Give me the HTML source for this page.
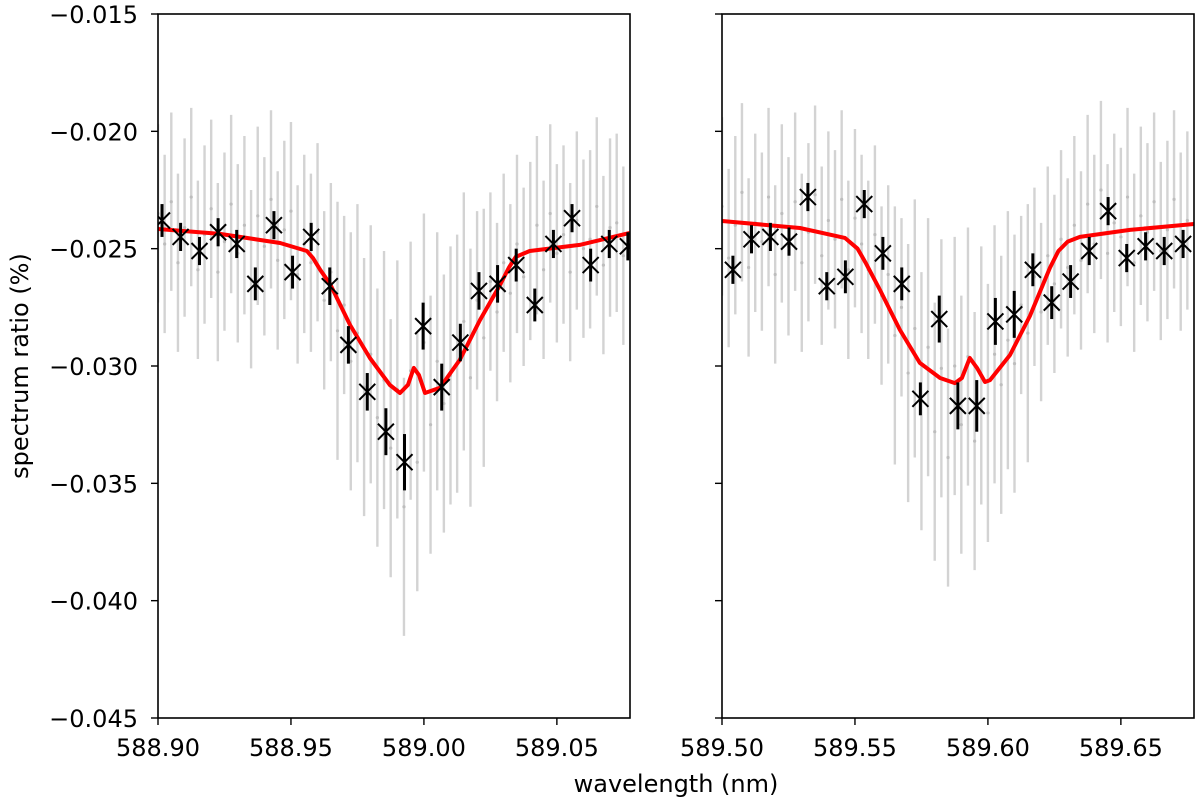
<!DOCTYPE html>
<html><head><meta charset="utf-8"><style>
body{margin:0;background:#fff}
svg text{font-family:"DejaVu Sans","Liberation Sans",sans-serif;font-size:24px;fill:#000}
</style></head><body>
<svg id="chart" width="1200" height="806" xmlns="http://www.w3.org/2000/svg">
<g id="plot"></g>
<text x="676" y="792" text-anchor="middle">wavelength (nm)</text>
<text transform="translate(28,366) rotate(-90)" text-anchor="middle">spectrum ratio (%)</text>
</svg>
<script>
const yTicks=[-0.015,-0.020,-0.025,-0.030,-0.035,-0.040,-0.045];
const leftTicks=[588.90,588.95,589.00,589.05];
const rightTicks=[589.50,589.55,589.60,589.65];
const leftWl=[588.9015,588.9085,588.9156,588.9226,588.9296,588.9366,588.9436,588.9506,588.9576,588.9646,588.9716,588.9787,588.9857,588.9927,588.9997,589.0067,589.0137,589.0207,589.0277,589.0347,589.0417,589.0487,589.0557,589.0627,589.0697,589.0767];
const leftVal=[-0.0238,-0.0245,-0.0251,-0.0243,-0.0248,-0.0265,-0.0240,-0.0260,-0.0245,-0.0266,-0.0291,-0.0311,-0.0328,-0.0341,-0.0283,-0.0309,-0.0290,-0.0268,-0.0265,-0.0257,-0.0274,-0.0248,-0.0237,-0.0257,-0.0248,-0.0249];
const leftErr=[0.0007,0.0006,0.0006,0.0006,0.0006,0.0007,0.0006,0.0007,0.0006,0.0008,0.0008,0.0008,0.0010,0.0012,0.0010,0.0010,0.0008,0.0008,0.0008,0.0007,0.0007,0.0006,0.0006,0.0007,0.0006,0.0006];
const rightWl=[589.5041,589.5111,589.5182,589.5252,589.5323,589.5394,589.5464,589.5535,589.5605,589.5676,589.5746,589.5817,589.5887,589.5958,589.6028,589.6099,589.6169,589.6240,589.6311,589.6381,589.6452,589.6522,589.6593,589.6663,589.6734];
const rightVal=[-0.0259,-0.0246,-0.0245,-0.0247,-0.0228,-0.0266,-0.0262,-0.0231,-0.0252,-0.0265,-0.0314,-0.0280,-0.0317,-0.0317,-0.0281,-0.0278,-0.0259,-0.0273,-0.0264,-0.0251,-0.0234,-0.0254,-0.0249,-0.0251,-0.0248];
const rightErr=[0.0006,0.0006,0.0006,0.0006,0.0006,0.0006,0.0007,0.0006,0.0007,0.0007,0.0007,0.0010,0.0010,0.0011,0.0010,0.0010,0.0007,0.0007,0.0007,0.0006,0.0006,0.0006,0.0006,0.0006,0.0006];
const leftModelWl=[588.9000,588.9233,588.9459,588.9560,588.9583,588.9610,588.9647,588.9722,588.9797,588.9872,588.9910,588.9940,588.9962,588.9981,589.0004,589.0060,589.0135,589.0211,589.0286,589.0320,589.0345,589.0398,589.0586,589.0774];
const leftModelVal=[-0.02416,-0.02437,-0.02476,-0.02510,-0.02540,-0.02590,-0.02650,-0.02825,-0.02966,-0.03081,-0.03115,-0.03080,-0.03008,-0.03038,-0.03115,-0.03093,-0.02974,-0.02804,-0.02655,-0.02580,-0.02535,-0.02510,-0.02484,-0.02433];
const rightModelWl=[589.5000,589.5293,589.5462,589.5510,589.5540,589.5594,589.5669,589.5744,589.5820,589.5876,589.5902,589.5932,589.5959,589.5989,589.6008,589.6083,589.6158,589.6233,589.6265,589.6300,589.6346,589.6534,589.6775];
const rightModelVal=[-0.02382,-0.02412,-0.02454,-0.02500,-0.02560,-0.02676,-0.02846,-0.02987,-0.03051,-0.03073,-0.03051,-0.02966,-0.03008,-0.03068,-0.03060,-0.02953,-0.02787,-0.02582,-0.02510,-0.02470,-0.02450,-0.02420,-0.02395];
const leftGrey=[-23.5,-24.8,-23.0,-25.6,-24.1,-22.8,-25.9,-24.4,-23.3,-26.0,-24.7,-23.1,-25.2,-24.0,-26.3,-23.6,-24.9,-22.9,-25.5,-24.2,-23.4,-26.1,-24.8,
-25.6,-24.3,-27.2,-26.0,-28.5,-27.4,-29.8,-28.6,-30.9,-29.5,-32.2,-30.6,-33.5,-31.0,
-36.0,-30.2,-34.1,-29.0,-32.5,-29.8,-31.6,-30.4,
-29.9,-28.1,-30.5,-27.2,-28.8,-26.4,-27.7,-25.6,-26.9,-24.8,-26.2,-25.1,
-24.0,-25.9,-23.5,-25.2,-24.4,-26.0,-23.8,-25.0,-24.6,-23.2,-25.7,-24.1,-23.9,-25.3];
const rightGrey=[-23.2,-25.4,-24.0,-22.6,-25.8,-23.9,-24.7,-22.8,-26.1,-23.5,-24.9,-23.0,-25.6,-24.3,-22.7,-25.3,-23.8,-24.6,-22.9,-25.9,-23.7,-24.8,
-25.9,-24.4,-27.0,-26.1,-28.7,-27.5,-30.3,-28.4,-31.5,-29.2,-32.8,-30.1,
-33.9,-30.0,-32.5,-29.6,-33.2,-30.4,-32.0,-29.5,
-30.8,-28.9,-29.9,-27.4,-28.6,-26.2,-27.7,-25.3,-26.5,-24.6,-25.8,
-24.0,-25.5,-23.1,-24.8,-22.5,-25.2,-23.9,-24.5,-22.8,-25.6,-23.6,-24.3,-23.0,-25.1,-24.2,-22.9,-24.7,-23.8];

const NS="http://www.w3.org/2000/svg";
const plot=document.getElementById('plot');
const pTop=14,pBot=718;
function yScale(v){return pTop+(-0.015-v)/0.030*(pBot-pTop);}
function mk(tag,attrs,parent){const e=document.createElementNS(NS,tag);for(const k in attrs)e.setAttribute(k,attrs[k]);(parent||plot).appendChild(e);return e;}

function panel(name,x0,x1,w0,w1,ticks,wl,val,err,mwl,mval,grey,showY){
  const x=w=>x0+(w-w0)/(w1-w0)*(x1-x0);
  const g=mk('g',{});
  
  
  const cid=name+'-clip';
  const cp=mk('clipPath',{id:cid},g);mk('rect',{x:x0,y:pTop,width:x1-x0,height:pBot-pTop},cp);
  const data=mk('g',{'clip-path':'url(#'+cid+')'},g);
  for(let i=0;i<grey.length;i++){
    const v=grey[i]/1000, w=w0+i*0.0025;
    const e=(v<-0.028)?0.0055:0.0038;
    const xx=x(w);
    const l=mk('line',{x1:xx,x2:xx,y1:yScale(v+e),y2:yScale(v-e),stroke:'#d3d3d3','stroke-width':2.4},data);
    
    
    mk('circle',{cx:xx,cy:yScale(v),r:1.6,fill:'#bdbdbd'},data);
  }
  let d='';
  for(let i=0;i<mwl.length;i++)d+=(i?'L':'M')+x(mwl[i]).toFixed(1)+','+yScale(mval[i]).toFixed(1);
  const p=mk('path',{d:d,fill:'none',stroke:'#ff0000','stroke-width':4,'stroke-linejoin':'round'},data);
  
  
  for(let i=0;i<wl.length;i++){
    const xx=x(wl[i]),yy=yScale(val[i]);
    const gg=mk('g',{},data);
    
    
    mk('line',{x1:xx,x2:xx,y1:yScale(val[i]+err[i]),y2:yScale(val[i]-err[i]),stroke:'#000','stroke-width':3},gg);
    const s=8;
    mk('path',{d:`M${xx-s},${yy-s}L${xx+s},${yy+s}M${xx-s},${yy+s}L${xx+s},${yy-s}`,stroke:'#000','stroke-width':2,fill:'none'},gg);
  }
  const f=mk('rect',{x:x0,y:pTop,width:x1-x0,height:pBot-pTop,fill:'none',stroke:'#000','stroke-width':1.6},g);
  
  
  for(const t of ticks){
    const xx=x(t);
    mk('line',{x1:xx,x2:xx,y1:pBot,y2:pBot+7,stroke:'#000','stroke-width':1.4},g);
    const tx=mk('text',{x:xx,y:pBot+38,'text-anchor':'middle'},g);
    tx.textContent=t.toFixed(2);
    
    
  }
  for(const t of yTicks){
    const yy=yScale(t);
    mk('line',{x1:x0-7,x2:x0,y1:yy,y2:yy,stroke:'#000','stroke-width':1.4},g);
    if(showY){
      const tx=mk('text',{x:x0-20,y:yy+9,'text-anchor':'end'},g);
      tx.textContent='\u2212'+Math.abs(t).toFixed(3);
      
      
    }
  }
}
panel('left',158,630,588.90,589.0775,leftTicks,leftWl,leftVal,leftErr,leftModelWl,leftModelVal,leftGrey,true);
panel('right',722,1194,589.50,589.6775,rightTicks,rightWl,rightVal,rightErr,rightModelWl,rightModelVal,rightGrey,false);
</script>
</body></html>
